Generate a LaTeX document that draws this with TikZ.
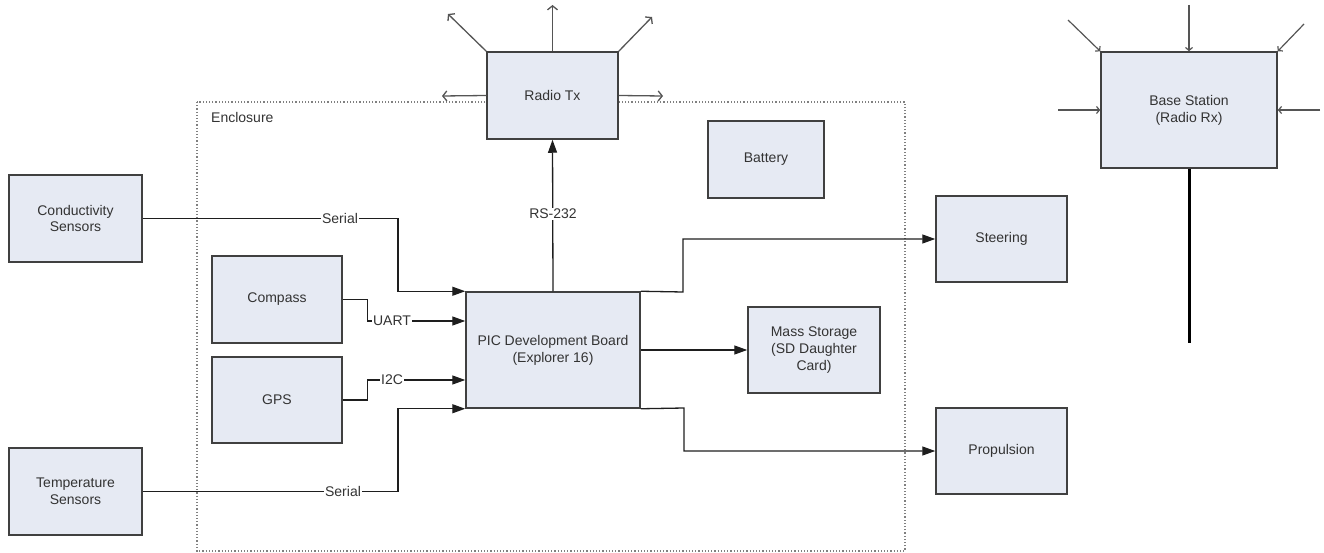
\documentclass[tikz,border=0pt]{standalone}
\usepackage{fontspec}
\setmainfont{Liberation Sans}
\usetikzlibrary{arrows.meta,calc}
\definecolor{boxfill}{HTML}{E6EAF3}
\definecolor{boxline}{HTML}{404040}
\definecolor{txt}{HTML}{333333}
\definecolor{wire}{HTML}{1E1E1E}
\definecolor{radiowire}{HTML}{555555}
\begin{document}
\begin{tikzpicture}[x=1pt,y=-1pt,
  font=\fontsize{14}{16.8}\selectfont,
  block/.style={draw=boxline,fill=boxfill,line width=1.5pt,inner sep=0pt,align=center,text=txt},
  conn/.style={draw=wire,line width=1.3pt,-{Triangle[length=13pt,width=9pt]}},
  wireline/.style={draw=wire,line width=1.3pt},
  lbl/.style={fill=white,inner sep=1pt,text=txt},
  radiate/.style={draw=radiowire,line width=1.3pt,-{Straight Barb[length=4pt,width=10pt]}},
  receive/.style={draw=radiowire,line width=1.2pt,-{Straight Barb[length=3pt,width=7pt]}},
  encl/.style={draw=gray,line width=1.2pt,dotted}
]
\useasboundingbox (0,0) rectangle (1324,553);

% enclosure
\draw[encl] (197,102) rectangle (905,551);
\node[anchor=west,text=txt,inner sep=0pt] (enctext) at (211,117) {Enclosure};

% blocks
\node[block,minimum width=131pt,minimum height=87pt] (radio) at (552.5,95.5) {Radio Tx};
\node[block,minimum width=176pt,minimum height=116pt] (base) at (1189,110) {Base Station\\(Radio Rx)};
\node[block,minimum width=133pt,minimum height=87pt] (cond) at (75.5,218.5) {Conductivity\\Sensors};
\node[block,minimum width=133pt,minimum height=87pt] (temp) at (75.5,491.5) {Temperature\\Sensors};
\node[block,minimum width=130pt,minimum height=87pt] (compass) at (277,299.5) {Compass};
\node[block,minimum width=130pt,minimum height=86pt] (gps) at (277,400) {GPS};
\node[block,minimum width=174pt,minimum height=116pt] (pic) at (553,350) {PIC Development Board\\(Explorer 16)};
\node[block,minimum width=132pt,minimum height=86pt] (mass) at (814,350) {Mass Storage\\(SD Daughter\\Card)};
\node[block,minimum width=116pt,minimum height=77pt] (battery) at (766,159.5) {Battery};
\node[block,minimum width=131pt,minimum height=86pt] (steer) at (1001.5,239) {Steering};
\node[block,minimum width=131pt,minimum height=86pt] (prop) at (1001.5,451) {Propulsion};

% radio tx emissions
\coordinate (rt1) at (448,14);
\coordinate (rt2) at (552.5,5);
\coordinate (rt3) at (652,17);
\coordinate (rt4) at (442,96);
\coordinate (rt5) at (663,96);
\draw[radiate] (radio.north west) -- (rt1);
\draw[radiate] (radio.north) -- (rt2);
\draw[radiate] (radio.north east) -- (rt3);
\draw[radiate] (radio.west) -- (rt4);
\draw[radiate] (radio.east) -- (rt5);

% base station reception
\coordinate (br1) at (1068,20);
\coordinate (br2) at (1189,5);
\coordinate (br3) at (1304,24);
\coordinate (br4) at (1058,110);
\coordinate (br5) at (1320,110);
\draw[receive] (br1) -- (base.north west);
\draw[receive] (br2) -- (base.north);
\draw[receive] (br3) -- (base.north east);
\draw[receive] (br4) -- (base.west);
\draw[receive] (br5) -- (base.east);
\coordinate (mast) at (1189,343);
\draw[line width=3pt,black] (base.south) -- (mast);

% connectors into PIC
\draw[conn] (cond.east) -- (398,218.5) |- (pic.north west);
\node[lbl] (ser1) at (340,218.5) {Serial};
\draw[conn] (compass.east) -- ++(25,0) |- ([yshift=29pt]pic.west);
\node[lbl] (uart) at (392,321) {UART};
\draw[conn] (gps.east) -- ++(25,0) |- ([yshift=-30pt]pic.west);
\node[lbl] (i2c) at (392,380) {I2C};
\draw[conn] (temp.east) -- (398,491.5) |- (pic.south west);
\node[lbl] (ser2) at (343,491.5) {Serial};

% PIC outputs
\draw[conn] (pic.north) -- (radio.south);
\node[lbl] (rs) at (553,214) {RS-232};
\draw[conn] (pic.north east) -- (683,292) |- (steer.west);
\draw[conn] (pic.east) -- (mass.west);
\draw[conn] (pic.south east) -- (684,408) |- (prop.west);
\end{tikzpicture}
\end{document}
